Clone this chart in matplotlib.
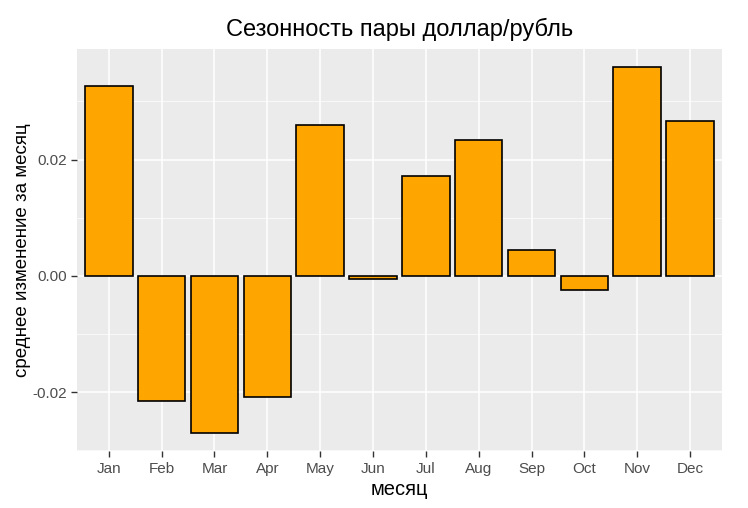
import numpy as np
import matplotlib
matplotlib.use("Agg")
import matplotlib.pyplot as plt

months = ["Jan", "Feb", "Mar", "Apr", "May", "Jun",
          "Jul", "Aug", "Sep", "Oct", "Nov", "Dec"]
mean_change = [0.0326, -0.0216, -0.0270, -0.0209, 0.0259, -0.0005,
               0.0172, 0.0233, 0.0045, -0.0025, 0.0359, 0.0267]
y_ticks = [-0.02, 0.00, 0.02]
y_tick_labels = ["-0.02", "0.00", "0.02"]

plt.rcParams["font.family"] = ["Liberation Sans", "DejaVu Sans"]

fig = plt.figure(figsize=(7.48, 5.08), dpi=100)
ax = fig.add_axes([0.103, 0.112, 0.862, 0.792])
ax.set_facecolor("#EBEBEB")

x = np.arange(len(months))
ax.bar(x, mean_change, width=0.9, color="#FFA500", edgecolor="black",
       linewidth=1.2, zorder=3)

# same padding as ggplot's default expansion
lo, hi = min(mean_change), max(mean_change)
pad = (hi - lo) * 0.05
ax.set_ylim(lo - pad, hi + pad)
ax.set_xlim(-0.6, len(months) - 0.4)

ax.set_xticks(x)
ax.set_xticklabels(months)
ax.set_yticks(y_ticks)
ax.set_yticklabels(y_tick_labels)
ax.set_yticks([-0.03, -0.01, 0.01, 0.03], minor=True)

ax.grid(True, which="major", color="white", linewidth=1.1, zorder=0)
ax.grid(True, which="minor", axis="y", color="white", linewidth=0.5, zorder=0)
ax.set_axisbelow(True)

for s in ax.spines.values():
    s.set_visible(False)
ax.tick_params(axis="both", which="major", colors="#333333", length=4,
               width=1, labelsize=11, labelcolor="#4D4D4D")
ax.tick_params(axis="both", which="minor", length=0)

ax.set_title("Сезонность пары доллар/рубль", fontsize=17, pad=9)
ax.set_xlabel("месяц", fontsize=14.5, labelpad=3)
ax.set_ylabel("среднее изменение за месяц", fontsize=13.5, labelpad=1)

fig.savefig("out.png", dpi=100, facecolor="white")
